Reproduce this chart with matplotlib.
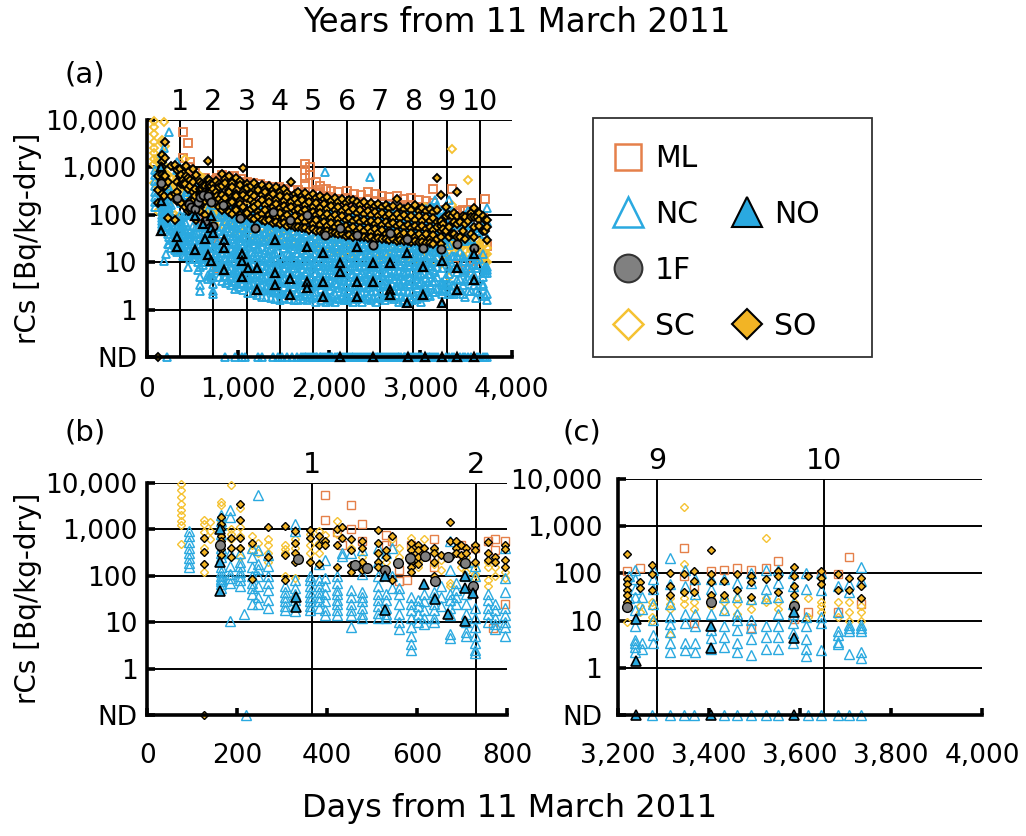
import matplotlib.pyplot as plt
import numpy as np
from matplotlib.lines import Line2D
from matplotlib.patches import Rectangle
from matplotlib.ticker import FuncFormatter, NullLocator

plt.rcParams["font.family"] = ["DejaVu Sans"]

W, H = 1026, 836
ND = 0.1  # not-detected samples sit on the bottom line

# ---- ML: open squares ----
ml_days = [396, 422, 433, 452, 478, 530, 545, 560, 577, 586, 601, 638, 698, 728, 758, 769, 773, 795,
           830, 900, 960, 1030, 1100, 1170, 1240, 1310, 1380, 1450, 1520, 1590, 1660, 1735, 1790,
           1850, 1900, 1960, 2020, 2100, 2190, 2270, 2350, 2430, 2500, 2580, 2660, 2740, 2820,
           2900, 2980, 3060, 3140,
           3221, 3250, 3346, 3368, 3404, 3434, 3463, 3492, 3525, 3551, 3588, 3617, 3646, 3683,
           3708, 3734]
ml_vals = [[5500, 1600], [850], [450], [3300, 1000], [1300, 550], [750, 450], [550], [130, 75],
           [82], [450], [350], [600, 250, 150], [450, 300], [400], [550], [7.5], [600, 350],
           [550, 25],
           [700, 480, 380, 300], [640, 450, 350], [650, 470, 330, 260], [560, 400, 290, 230],
           [500, 370, 285, 220], [470, 355, 255, 210], [455, 320, 250], [410, 305, 235, 190],
           [395, 285, 220, 180], [385, 265, 200], [360, 255, 205, 165], [335, 250, 190],
           [330, 235, 185, 150], [1200, 900, 600, 450, 300], [1000, 700, 300, 240],
           [500, 285, 200, 160], [400, 300, 230, 175], [350, 255, 190], [320, 240, 180, 150],
           [300, 215, 165], [320, 230, 170, 140], [280, 205, 160], [260, 190, 150, 120],
           [300, 215, 160, 125], [280, 200, 140, 115], [255, 190, 130, 110], [240, 170, 125, 105],
           [250, 180, 130, 112], [220, 160, 115, 100], [230, 165, 120, 102], [210, 150, 110, 96],
           [200, 145, 108], [360, 180, 130, 105],
           [110], [130], [350, 90], [55, 9], [110], [120], [130], [120, 7], [130], [180], [11],
           [15], [95], [95, 15], [220], [22]]

# ---- NC: open triangles ----
nc_days = [92, 165, 185, 206, 215, 232, 247, 269, 306, 329, 362, 381, 396, 422, 433, 452, 478,
           512, 530, 545, 560, 586, 601, 616, 638, 653, 672, 687, 709, 728, 758, 773, 795,
           830, 870, 920, 965, 1010, 1060, 1110, 1160, 1210, 1260, 1310, 1360, 1410, 1460, 1510,
           1560, 1610, 1660, 1710, 1760, 1810, 1860, 1910, 1954, 1960, 2010, 2060, 2110, 2160,
           2210, 2260, 2310, 2360, 2410, 2447, 2460, 2510, 2560, 2610, 2660, 2710, 2760, 2810,
           2860, 2910, 2960, 3010, 3060, 3110, 3160,
           845, 895, 945, 990, 1035, 1085, 1135, 1185, 1235, 1285, 1335, 1385, 1435, 1485, 1535,
           1585, 1635, 1685, 1735, 1785, 1835, 1885, 1935, 1985, 2035, 2085, 2135, 2185, 2235,
           2285, 2335, 2385, 2435, 2485, 2535, 2585, 2635, 2685, 2735, 2785, 2835, 2885, 2935,
           2985, 3035, 3085, 3135, 3185,
           3225, 3238, 3253, 3278, 3314, 3347, 3369, 3405, 3434, 3463, 3492, 3525, 3551, 3584,
           3613, 3646, 3683, 3708, 3734]
nc_vals = [[900, 700, 520, 400, 300, 240, 190, 150],
           [2000, 1500, 1200, 800, 400, 300, 250, 150, 120, 100, 85, 75, 65, 55],
           [2600, 1800, 300, 160, 110, 90, 70, 10.5],
           [300, 200, 160, 120, 100, 80, 60],
           [15],
           [400, 250, 150, 100, 70, 55, 40, 25],
           [5500, 350, 180, 140, 100, 60, 35, 25],
           [280, 160, 100, 70, 50, 30, 20],
           [60, 45, 35, 28, 22, 18],
           [1300, 900, 80, 55, 40, 30, 22, 17],
           [100, 80, 60, 45, 35, 28, 22, 18],
           [180, 80, 60, 45, 35, 28, 20],
           [220, 90, 60, 40, 28, 18, 14],
           [100, 70, 50, 40, 30, 25, 18, 14],
           [300, 260],
           [300, 50, 35, 25, 18, 14, 8],
           [350, 110, 45, 35, 28, 20, 15, 12],
           [400, 200, 100, 60, 40, 30, 22, 16, 12],
           [300, 40, 30, 20, 15, 12],
           [400, 100, 55],
           [55, 40, 25, 15, 10, 7],
           [35, 25, 18, 12, 8, 5, 3.4, 2.5],
           [30, 22, 15, 10],
           [40, 28, 18, 12, 9],
           [45, 35, 25, 18, 12, 10],
           [60, 35, 22],
           [550, 130, 40, 30, 20, 14, 5.5, 4.5],
           [70, 50, 35, 25],
           [200, 100, 40, 25, 15, 10, 6, 5],
           [160, 100, 20, 12, 8, 5, 3.5, 2.5, 2.2],
           [40, 30, 20, 15, 10],
           [25, 18, 12, 9, 7],
           [400, 90, 45, 20, 14, 10, 8, 5],
           [210, 140, 98, 55, 40, 22, 16, 9, 6.5, 4.1],
           [175, 125, 76, 54, 31, 23, 12, 8.5, 5.2, 3.7],
           [165, 105, 72, 43, 32, 18, 13, 7.2, 4.8, 3.3],
           [135, 96, 60, 41, 25, 18, 10, 7, 4, 2.8],
           [175, 100, 70, 40, 29, 17, 12, 6.5, 4.5, 3.1],
           [125, 88, 52, 37, 22, 16, 9, 6.4, 3.7, 2.6],
           [118, 78, 53, 31, 22, 13, 9.4, 5.3, 3.6, 2.3],
           [145, 85, 58, 33, 24, 13.5, 9, 5.8, 3.3, 2.3],
           [110, 77, 45, 32, 19, 13.5, 7.8, 5.4, 3, 2.1],
           [128, 74, 52, 30, 21, 12, 8.3, 4.8, 3.2, 1.9],
           [102, 72, 43, 30, 18, 12.5, 7.3, 5, 2.9, 1.9],
           [112, 69, 48, 28, 19, 10.5, 7.4, 4.2, 2.9, 1.8],
           [92, 64, 38, 27, 16, 11.5, 6.8, 4.7, 2.6, 1.7],
           [104, 63, 44, 26, 9.3, 5.6, 3.9, 2.3, 1.6],
           [122, 71, 49, 29, 20, 11.5, 7.8, 4.5, 3, 1.8],
           [88, 62, 36, 26, 15, 10.5, 6.2, 4.4, 2.5, 1.7],
           [108, 65, 46, 27, 19, 11, 7.6, 4.4, 3, 1.6],
           [93, 62, 37, 26, 15.5, 10.4, 6.1, 4.2, 2.4, 1.6],
           [113, 67, 46, 27, 18.5, 10.6, 7.3, 4.2, 2.8, 1.7],
           [97, 66, 39, 27, 16, 11, 6.4, 4.3, 2.5, 1.6],
           [133, 77, 52, 30, 21, 12, 8.1, 4.7, 3.1, 1.8],
           [92, 63, 37, 26, 15.5, 10.3, 6.1, 4.1, 2.4, 1.5],
           [108, 64, 44, 26, 17.5, 10.6, 7.1, 4.2, 2.8, 1.6],
           [815],
           [88, 60, 36, 25, 14.5, 9.9, 5.9, 4, 2.3, 1.5],
           [103, 61, 42, 25, 17, 10.2, 6.8, 4.1, 2.7, 1.6],
           [83, 57, 34, 23, 13.5, 9.3, 5.5, 3.7, 2.2, 1.5],
           [112, 67, 46, 27, 18.5, 11, 7.4, 4.4, 2.9, 1.7],
           [93, 62, 37, 25, 15, 10.3, 6.1, 4.1, 2.4, 1.6],
           [103, 62, 42, 25, 17, 10.2, 6.9, 4.1, 2.7, 1.6],
           [88, 59, 35, 24, 14, 9.6, 5.7, 3.8, 2.2, 1.5],
           [108, 64, 44, 26, 17.5, 10.5, 7.1, 4.2, 2.8, 1.7],
           [93, 62, 37, 25, 14.5, 10, 6, 4, 2.3, 1.5],
           [113, 68, 45, 27, 18.5, 11, 7.3, 4.4, 2.9, 1.7],
           [640],
           [98, 65, 39, 26, 15.5, 10.5, 6.3, 4.2, 2.5, 1.6],
           [92, 56, 38, 22, 15.5, 9.1, 6.2, 3.7, 2.5, 1.5],
           [123, 73, 48, 29, 19.5, 11.6, 7.7, 4.6, 3, 1.8],
           [98, 65, 39, 26, 15.5, 10.3, 6.2, 4.1, 2.4, 1.6],
           [155, 88, 57, 33, 22, 12.6, 8.4, 5, 3.2, 1.9],
           [107, 70, 42, 28, 16.5, 11, 6.6, 4.4, 2.6, 1.7],
           [98, 58, 39, 23, 15.5, 9.3, 6.3, 3.8, 2.5, 1.5],
           [102, 68, 41, 27, 16, 10.7, 6.4, 4.3, 2.5, 1.6],
           [93, 55, 37, 22, 15, 8.9, 6, 3.6, 2.4, 1.5],
           [97, 65, 39, 26, 15.5, 10.3, 6.2, 4.1, 2.4, 1.6],
           [118, 70, 46, 27, 18.5, 11, 7.3, 4.4, 2.9, 1.7],
           [92, 62, 37, 25, 14.5, 9.9, 5.8, 3.9, 2.3, 1.5],
           [134, 78, 51, 30, 20, 12, 7.9, 4.8, 3.1, 1.9],
           [146, 95, 55, 36, 21, 14.2, 8.3, 5.6, 3.3, 2],
           [205, 116, 74, 42, 28, 16.4, 10.8, 6.3, 4.1, 2.4],
           [185, 118, 76, 47, 31, 19, 12.5, 7.6, 5.2],
           [150, 110, 64, 45, 26, 17, 10.5, 6.8, 4.3],
           [155, 92, 66, 37, 27, 15, 10.8, 6, 3.9],
           [128, 90, 54, 37, 22, 15.5, 9, 6.2, 3.6],
           [150, 82, 57, 33, 24, 13.5, 9.6, 5.4, 3.7],
           [112, 80, 47, 34, 19.5, 13.8, 8, 5.6, 3.2],
           [132, 75, 52, 29, 21, 11.8, 8.4, 4.7, 3.3],
           [100, 72, 41, 30, 17, 12, 7.1, 5, 2.8],
           [120, 68, 47, 27, 19, 10.8, 7.6, 4.3, 3],
           [96, 67, 39, 28, 16, 11.2, 6.7, 4.6, 2.6],
           [108, 63, 44, 25, 17.5, 10, 7, 4, 2.7],
           [90, 62, 36, 26, 15, 10.4, 6.2, 4.3, 2.4],
           [103, 60, 41, 24, 16.5, 9.5, 6.6, 3.8, 2.5],
           [86, 60, 35, 25, 14, 10, 5.9, 4.1, 2.2],
           [98, 57, 40, 23, 16, 9.2, 6.4, 3.7, 2.4],
           [84, 58, 34, 24, 13.6, 9.7, 5.6, 3.9, 2.1],
           [95, 55, 38, 22, 15.5, 8.9, 6.2, 3.5, 2.3],
           [82, 57, 33, 23, 13.2, 9.4, 5.4, 3.8, 2],
           [96, 54, 38, 21.5, 15.2, 8.7, 6, 3.4, 2.2],
           [80, 56, 32, 22.5, 13, 9.2, 5.3, 3.7, 1.9],
           [92, 53, 37, 21, 15, 8.5, 5.9, 3.3, 2.1],
           [79, 55, 31.5, 22, 12.8, 9, 5.2, 3.6, 1.9],
           [90, 52, 36, 20.5, 14.8, 8.4, 5.8, 3.3, 2.1],
           [78, 54, 31, 21.5, 12.5, 8.8, 5.1, 3.5, 1.8],
           [92, 51, 36, 20, 14.5, 8.2, 5.7, 3.2, 2],
           [77, 54, 30.5, 21.5, 12.3, 8.7, 5, 3.5, 1.8],
           [90, 51, 35, 20, 14.3, 8.1, 5.6, 3.2, 2],
           [76, 53, 30, 21, 12.2, 8.6, 5, 3.4, 1.8],
           [92, 50, 35, 19.8, 14.2, 8, 5.6, 3.1, 2],
           [78, 53, 30, 21, 12.1, 8.5, 4.9, 3.4, 1.8],
           [93, 50, 35, 19.6, 14.1, 8, 5.5, 3.1, 2],
           [79, 54, 30.5, 21, 12, 8.5, 4.9, 3.4, 1.8],
           [95, 51, 35, 19.8, 14.2, 8, 5.6, 3.1, 2],
           [80, 55, 31, 21.5, 12.3, 8.6, 5, 3.5, 1.8],
           [98, 52, 36, 20, 14.4, 8.1, 5.7, 3.2, 2],
           [84, 56, 32, 22, 12.5, 8.8, 5.1, 3.5, 1.9],
           [125, 60, 38, 21, 15, 8.4, 5.9, 3.3, 2.1],
           [88, 58, 33, 22.5, 13, 9, 5.3, 3.6, 1.9],
           [102, 54, 37, 20.5, 14.6, 8.3, 5.8, 3.2, 2.1],
           [84, 57, 32, 22, 12.6, 8.8, 5.1, 3.5, 1.9],
           [98, 53, 36, 20, 14.4, 8.1, 5.7, 3.2, 2],
           [82, 56, 31.5, 21.5, 12.4, 8.7, 5, 3.5, 1.8],
           [104, 54, 37, 20.5, 14.7, 8.3, 5.8, 3.3, 2.1],
           [86, 58, 33, 22.5, 13, 9, 5.3, 3.6, 1.9],
           [112, 60, 39, 21.5, 15.4, 8.7, 6.1, 3.4, 2.2],
           [95, 63, 36, 24.5, 14, 9.8, 5.7, 3.9, 2.1],
           [135, 70, 46, 25, 18, 10, 7, 3.9, 2.4],
           [160, 88, 52, 32, 20, 13, 8, 5, 2.8],
           [90, 30],
           [120, 75, 46, 32, 17, 7.6, 3.8, 3.4, 2.8, 2.2],
           [32, 18, 3.4, 2.5],
           [120, 75, 46, 23, 10.5, 5, 3.4],
           [210, 60, 23, 12, 8.3, 5.6, 3.4, 2.2],
           [120, 53, 14, 8.9, 3.4, 2.4],
           [75, 37, 14, 7.6, 3.4, 2.2],
           [75, 46, 14, 6.4, 4.3, 2.5],
           [75, 32, 17, 7.6, 4.6, 2.7],
           [62, 32, 14, 10.5, 6.4, 3.4, 2.2],
           [101, 62, 28, 10.5, 7, 4, 1.9],
           [120, 46, 30, 7.6, 4.6, 2.5],
           [120, 62, 32, 14, 7.6, 4.6, 2.5],
           [100, 53, 23, 14, 8.9, 5.5, 3.4],
           [100, 46, 12, 7.6, 4, 2.5, 1.8],
           [100, 45, 12, 9, 2.4],
           [55, 15, 6, 5, 3.6, 3.2],
           [60, 40, 8, 7, 6, 2],
           [140, 70, 8, 7, 6, 2.2, 1.6]]
nc_nd_days = [220, 858, 968, 1041, 1077, 1223, 1260, 1388, 1442, 1479, 1534, 1589, 1644, 1690,
              1710, 1730, 1750, 1770, 1790, 1810, 1830, 1850, 1870, 1895, 1915, 1935, 1955, 1975,
              1995, 2015, 2035, 2060, 2080, 2100, 2120, 2140, 2160, 2185, 2205, 2225, 2245, 2265,
              2285, 2310, 2330, 2350, 2370, 2395, 2415, 2440, 2460, 2480, 2500, 2520, 2540, 2560,
              2580, 2600, 2620, 2640, 2665, 2690, 2710, 2730, 2750, 2770, 2790, 2815, 2835, 2850,
              2875, 2900, 2920, 2940, 2960, 2985, 3000, 3020, 3045, 3070, 3090, 3110, 3130, 3150,
              3170, 3190, 3276, 3316, 3346, 3368, 3434, 3463, 3492, 3525, 3551, 3617, 3646, 3683,
              3708, 3734]

# ---- NO: filled triangles ----
no_days = [162, 330, 528, 614, 640, 669, 706, 725, 848, 1040, 1112, 1210, 1406, 1570, 1753, 1935,
           2118, 2301, 2483, 2666, 2849, 3031, 3240, 3404, 3588]
no_vals = [[1000, 200, 46], [35, 21], [97, 18.6], [65], [31], [14.7], [97, 54, 10.5], [42],
           [30, 20, 6.8], [15, 11, 5], [7.7], [7.5, 2.6], [30, 5.9, 3.4], [4.6, 2.1],
           [21.5, 3.9, 2.9], [15.6, 3.9, 1.9], [9.6, 6.4], [21.5, 3.9, 1.9], [9.6, 3.9],
           [9.6, 2.6, 2.1], [15.6, 1.4], [8.2, 2.1], [11, 1.4], [7.5, 2.6], [15, 4.2]]
no_nd_days = [2118, 2483, 2866, 3048, 3240, 3404, 3588]

# ---- 1F: grey circles ----
f1_days = [162, 334, 462, 488, 528, 558, 584, 617, 640, 669, 706, 725, 840, 1022, 1187, 1388,
           1570, 1753, 1954, 2118, 2301, 2483, 2666, 2849, 3031, 3221, 3404, 3588]
f1_vals = [465, 225, 172, 146, 134, 186, 240, 260, 76, 250, 186, 59, 162, 85, 52, 117, 79, 100,
           38, 52, 38, 23, 41, 32, 20, 19, 25, 20]

# ---- SC: open diamonds ----
sc_days = [75, 127, 140, 165, 187, 206, 232, 247, 269, 306, 329, 362, 381, 396, 422, 452, 478,
           512, 530, 545, 560, 586, 601, 616, 638, 653, 672, 687, 698, 709, 728, 758, 773, 795,
           850, 950, 1050, 1150, 1250, 1350, 1450, 1550, 1650, 1750, 1850, 1950, 2050, 2150,
           2250, 2350, 2450, 2550, 2650, 2750, 2850, 2950, 3049, 3150,
           3221, 3250, 3276, 3316, 3346, 3368, 3404, 3434, 3463, 3492, 3525, 3551, 3588, 3617,
           3646, 3683, 3708, 3734]
sc_vals = [[9500, 7000, 5000, 3500, 2600, 2000, 1500, 1200, 480], [1600, 1300, 850, 400, 120],
           [1400, 900, 600], [3800, 3300, 1500, 700], [9000, 1000, 800, 600],
           [2800, 1100, 700, 400, 250], [700, 450, 350], [500, 300], [600, 450, 300, 200],
           [450, 380, 300, 100], [600, 400, 90], [800, 450, 300, 200], [900, 500, 300, 180],
           [750, 550], [1500, 800], [400], [250, 180], [300], [200], [600], [400, 250],
           [650, 400], [300, 200, 150], [600], [350, 180], [220, 130], [70, 60], [300], [150],
           [250, 120], [180, 110, 90], [200, 150, 80, 60], [150, 100], [120, 90],
           [420, 255, 150, 92, 58], [375, 225, 128, 77, 47], [335, 186, 117, 68, 43],
           [295, 178, 98, 63, 37], [275, 155, 94, 53, 35], [235, 143, 82, 51, 29],
           [224, 127, 78, 44, 28], [196, 120, 68, 43, 24], [188, 105, 66, 37, 23.5],
           [166, 102, 58, 36, 20], [163, 90, 56, 31, 20.5], [145, 88, 48, 31, 17.5],
           [142, 78, 48, 27, 17], [127, 78, 43, 27, 15.5], [128, 70, 43, 24, 15.5],
           [115, 70, 39, 24.5, 13.5], [114, 63, 39, 21.5, 14], [105, 63, 35, 21.5, 12.5],
           [106, 58, 36, 19.5, 12.8], [98, 58, 32, 20.5, 11.7], [98, 53, 33, 18.5, 12.3],
           [92, 53, 30, 19, 11.2], [150, 49, 31, 17.5, 11.3], [91, 47, 29.5, 16.5, 11],
           [9.5, 25, 35], [20, 15], [25, 20, 12, 10], [5, 22, 18, 30], [2500, 160, 30, 22],
           [25, 18], [30, 20], [30, 25, 16], [30, 22, 14], [25, 18], [550, 30, 25], [18, 25],
           [25, 18], [30, 12], [25, 20, 15], [25, 12], [25, 15, 10], [20, 15, 10]]

# ---- SO: filled diamonds ----
so_days = [127, 165, 187, 206, 232, 269, 306, 329, 362, 381, 396, 422, 433, 452, 478, 512, 530,
           545, 586, 601, 616, 638, 653, 672, 687, 698, 709, 728, 758, 773, 795,
           820, 860, 900, 940, 980, 1020, 1060, 1100, 1140, 1180, 1220, 1260, 1300, 1340, 1380,
           1420, 1460, 1500, 1540, 1580, 1620, 1660, 1700, 1740, 1780, 1820, 1860, 1900, 1940,
           1980, 2020, 2060, 2100, 2140, 2180, 2220, 2260, 2300, 2340, 2380, 2420, 2460, 2500,
           2540, 2580, 2620, 2660, 2700, 2740, 2780, 2820, 2860, 2900, 2940, 2980, 3020, 3060,
           3100, 3140, 3178,
           3221, 3250, 3276, 3316, 3346, 3368, 3404, 3434, 3463, 3492, 3525, 3551, 3588, 3617,
           3646, 3683, 3708, 3734]
so_vals = [[650, 330, 180], [1800, 1300, 1000, 700, 550, 380, 280], [650, 400, 250],
           [3500, 1600, 650, 400], [500, 85], [1100, 250], [1150, 280, 80], [900, 500, 300, 200],
           [950, 650, 200], [700, 450, 180], [550, 450], [1000, 450, 150], [1100, 650],
           [600, 350, 170, 120], [550, 400, 200, 130], [950, 500, 300, 200, 150], [350, 250],
           [700, 80], [500, 350, 270, 200, 150, 120], [450, 350, 250, 180], [400, 250],
           [400, 300, 200, 100], [280], [1400, 560, 250], [550, 400, 300], [450, 280, 200],
           [400, 300], [450, 350, 200], [520, 300, 220], [250, 200], [450, 380, 220, 150],
           [720, 410, 265, 190, 130], [560, 480, 230, 160, 140], [650, 330, 300, 175, 115],
           [470, 390, 210, 185, 105], [590, 280, 250, 140, 125], [520, 420, 195, 170, 98],
           [960, 310, 260, 150, 92], [450, 365, 230, 120, 110], [400, 280, 210, 135, 88],
           [470, 250, 180, 150, 84], [380, 330, 170, 115, 95], [430, 260, 205, 105, 78],
           [350, 300, 160, 125, 74], [400, 230, 185, 98, 80], [330, 280, 150, 118, 68],
           [380, 210, 170, 92, 72], [310, 255, 140, 110, 64], [350, 200, 155, 85, 67],
           [290, 235, 132, 100, 58], [500, 190, 145, 80, 62], [280, 220, 120, 95, 55],
           [310, 175, 135, 76, 57], [255, 205, 115, 88, 52], [290, 165, 125, 70, 53],
           [240, 190, 105, 82, 49], [275, 150, 118, 66, 50], [225, 180, 98, 77, 46],
           [250, 142, 110, 62, 47], [215, 168, 92, 72, 43], [240, 135, 104, 58, 45],
           [200, 158, 88, 68, 41], [228, 128, 98, 55, 42], [190, 150, 84, 64, 39],
           [215, 122, 93, 52, 40], [182, 142, 80, 60, 37], [205, 115, 88, 50, 38],
           [210, 135, 76, 57, 35], [192, 110, 84, 47, 36], [165, 128, 72, 54, 34],
           [185, 104, 80, 45, 35], [158, 122, 69, 52, 33], [175, 99, 76, 43, 34],
           [152, 116, 66, 50, 32], [168, 95, 73, 41, 33], [146, 112, 63, 48, 31],
           [162, 91, 70, 39, 32], [140, 107, 61, 46, 30], [155, 88, 67, 38, 31],
           [220, 103, 58, 44, 29], [150, 85, 65, 36, 30], [132, 100, 56, 42, 28],
           [145, 82, 62, 35, 29], [128, 96, 54, 41, 27], [162, 79, 60, 34, 28],
           [124, 93, 52, 40, 27], [138, 76, 58, 33, 27], [120, 90, 50, 39, 26],
           [134, 74, 57, 32, 26], [118, 87, 49, 38, 25], [590, 130, 72, 55, 31],
           [260, 75, 60, 45, 35, 25], [65, 50], [150, 95, 45], [100, 55, 35], [95, 40],
           [110, 70, 40], [310, 95, 65, 35], [70, 35], [95, 45], [90, 65, 32], [75],
           [110, 90, 40], [140, 90, 55, 35], [90], [110, 80, 60], [95, 45], [80, 45],
           [80, 55, 30]]
so_nd_days = [127]

years = np.arange(1, 11)

ML_C = "#E5804A"
NC_C = "#2AA9E0"
GREY = "#808080"
SC_C = "#F5C232"
SO_C = "#F2B425"


def spread(days, vals):
    xs, ys = [], []
    for d, v in zip(days, vals):
        v = np.atleast_1d(v)
        xs.extend([d] * len(v))
        ys.extend(v)
    return np.array(xs, float), np.array(ys, float)


def with_nd(xy, nd_days):
    x, y = xy
    return (np.concatenate([x, np.asarray(nd_days, float)]),
            np.concatenate([y, np.full(len(nd_days), ND)]))


series = [
    ("ML", spread(ml_days, ml_vals),
     dict(marker="s", ms=6.3, mfc="none", mec=ML_C, mew=1.0), 2.0),
    ("SC", spread(sc_days, sc_vals),
     dict(marker="D", ms=4.3, mfc="none", mec=SC_C, mew=1.0), 2.1),
    ("NC", with_nd(spread(nc_days, nc_vals), nc_nd_days),
     dict(marker="^", ms=6.5, mfc="none", mec=NC_C, mew=1.0), 2.2),
    ("SO", with_nd(spread(so_days, so_vals), so_nd_days),
     dict(marker="D", ms=4.3, mfc=SO_C, mec="black", mew=1.0), 2.3),
    ("1F", spread(f1_days, f1_vals),
     dict(marker="o", ms=7.0, mfc=GREY, mec="black", mew=1.0), 2.4),
    ("NO", with_nd(spread(no_days, no_vals), no_nd_days),
     dict(marker="^", ms=6.5, mfc=NC_C, mec="black", mew=1.2), 2.5),
]

fig = plt.figure(figsize=(W / 100, H / 100), dpi=100)


def px_axes(left, top, right, bottom):
    return fig.add_axes([left / W, 1 - bottom / H, (right - left) / W, (bottom - top) / H])


def draw_panel(ax, xlo, xhi, xticks, xpad, ypad, ylabel, scale=1.0, edge=1.0):
    # the overview panel uses slightly smaller, heavier markers
    for name, (x, y), style, z in series:
        keep = (x >= xlo) & (x <= xhi)
        st = dict(style, ms=style["ms"] * scale, mew=style["mew"] * edge)
        ax.plot(x[keep], y[keep], ls="none", clip_on=False, zorder=z, **st)
    ax.set_yscale("log")
    ax.set_ylim(ND, 1e4)
    ax.set_xlim(xlo, xhi)
    ax.set_yticks([ND, 1, 10, 100, 1000, 10000],
                  ["ND", "1", "10", "100", "1,000", "10,000"])
    ax.set_xticks(xticks)
    ax.xaxis.set_major_formatter(FuncFormatter(lambda v, p: f"{v:,.0f}"))
    ax.yaxis.set_minor_locator(NullLocator())
    ax.xaxis.set_minor_locator(NullLocator())
    ax.grid(axis="y", color="black", lw=1.4, zorder=0.5)
    ax.set_axisbelow(True)
    yr = years[(years * 365.25 > xlo) & (years * 365.25 < xhi)]
    ax.vlines(yr * 365.25, ND, 1e4, color="black", lw=1.4, zorder=0.5)
    for s in ("top", "right"):
        ax.spines[s].set_visible(False)
    for s in ("left", "bottom"):
        ax.spines[s].set_linewidth(2.6)
    ax.tick_params(axis="x", direction="in", length=5, width=2.6, labelsize=19, pad=xpad)
    ax.tick_params(axis="y", direction="in", length=6, width=2.6, labelsize=19, pad=ypad)
    top = ax.secondary_xaxis("top")
    top.set_xticks(yr * 365.25, [str(v) for v in yr])
    top.tick_params(length=0, labelsize=20.5, pad=3)
    top.spines["top"].set_visible(False)
    if ylabel:
        ax.set_ylabel("rCs [Bq/kg-dry]", fontsize=20, labelpad=2)


ax_a = px_axes(146.7, 120, 511.7, 357.5)
ax_b = px_axes(147.2, 482.7, 507.2, 715)
ax_c = px_axes(617.6, 479, 982.2, 715)
draw_panel(ax_a, 0, 4000, [0, 1000, 2000, 3000, 4000], 14, 7, True, scale=0.85, edge=1.35)
draw_panel(ax_b, 0, 800, [0, 200, 400, 600, 800], 20, 7, True)
draw_panel(ax_c, 3200, 4000, [3200, 3400, 3600, 3800, 4000], 20, 11, False)

for lbl, x, y in (("(a)", 85, 75), ("(b)", 85, 432), ("(c)", 582, 432)):
    fig.text(x / W, 1 - y / H, lbl, fontsize=21, ha="center", va="center")
fig.text(517 / W, 1 - 22 / H, "Years from 11 March 2011", fontsize=23.5, ha="center", va="center")
fig.text(510 / W, 1 - 808 / H, "Days from 11 March 2011", fontsize=23, ha="center", va="center")

# legend: two columns, blanks keep ML and 1F alone on their rows
blank = Line2D([], [], ls="none")
handles = [
    Line2D([], [], ls="none", marker="s", ms=19, mfc="none", mec=ML_C, mew=1.8),
    Line2D([], [], ls="none", marker="^", ms=21, mfc="none", mec=NC_C, mew=1.8),
    Line2D([], [], ls="none", marker="o", ms=20, mfc=GREY, mec="#333333", mew=1.5),
    Line2D([], [], ls="none", marker="D", ms=15, mfc="none", mec=SC_C, mew=1.8),
    blank,
    Line2D([], [], ls="none", marker="^", ms=21, mfc=NC_C, mec="black", mew=1.5),
    blank,
    Line2D([], [], ls="none", marker="D", ms=15, mfc=SO_C, mec="black", mew=1.5),
]
labels = ["ML", "NC", "1F", "SC", "", "NO", "", "SO"]
fig.legend(handles, labels, ncol=2, loc="upper left", bbox_to_anchor=(613 / W, 1 - 144 / H),
           frameon=False, fontsize=21.5, borderpad=0, handlelength=1.0, handletextpad=0.4,
           columnspacing=1.16, labelspacing=0.9, borderaxespad=0)
fig.patches.append(Rectangle((593 / W, 1 - 357 / H), 279 / W, 239 / H, transform=fig.transFigure,
                             fill=False, ec="#333333", lw=1.3))

fig.savefig("out.png", dpi=100)
